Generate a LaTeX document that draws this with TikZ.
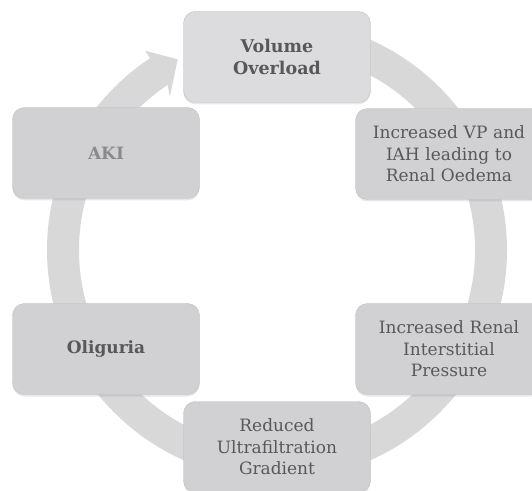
\documentclass[tikz,border=0pt]{standalone}
\usepackage{fontspec}
\setmainfont{DejaVu Serif}
\usepackage{tikz}
\usetikzlibrary{shadows}

\definecolor{ringgray}{RGB}{216,216,216}
\definecolor{boxgray}{RGB}{209,209,211}
\definecolor{topgray}{RGB}{220,220,222}
\definecolor{edgegray}{RGB}{192,192,194}
\definecolor{txtgray}{RGB}{88,88,88}
\definecolor{akigray}{RGB}{138,138,138}

\newcommand{\stagefont}{\fontsize{17}{21.5}\selectfont}

\tikzset{
  stagebox/.style={draw=edgegray, fill=boxgray, rounded corners=12pt,
    minimum width=187pt, minimum height=91pt, text width=176pt,
    align=center, text=txtgray, font=\stagefont,
    drop shadow={opacity=0.18, shadow xshift=0pt, shadow yshift=-2pt}}
}

\begin{document}
\begin{tikzpicture}[x=1pt,y=1pt]
 \useasboundingbox (0,0) rectangle (532,490);
 \coordinate (hub) at (277,240);
 % cycle ring, head pointing at the top box
 \fill[ringgray, shift={(hub)}] (95:230) arc[start angle=95, end angle=-236.5, radius=230]
   -- (-236.5:239) -- (-242.5:215) -- (-235:187) -- (-236.5:198)
   arc[start angle=-236.5, end angle=95, radius=198] -- cycle;

 \node[stagebox, fill=topgray, font=\fontsize{17.5}{22}\selectfont\bfseries] (vol) at (277,433) {Volume\\Overload};
 \node[stagebox] (vp) at (449,336) {Increased VP and\\IAH leading to\\Renal Oedema};
 \node[stagebox] (renal) at (449,141) {Increased Renal\\Interstitial\\Pressure};
 \node[stagebox] (ultra) at (277,43) {Reduced\\Ultrafiltration\\Gradient};
 \node[stagebox, font=\stagefont\bfseries] (olig) at (106,141) {Oliguria};
 \node[stagebox, font=\stagefont\bfseries, text=akigray] (aki) at (106,337) {AKI};
\end{tikzpicture}
\end{document}
